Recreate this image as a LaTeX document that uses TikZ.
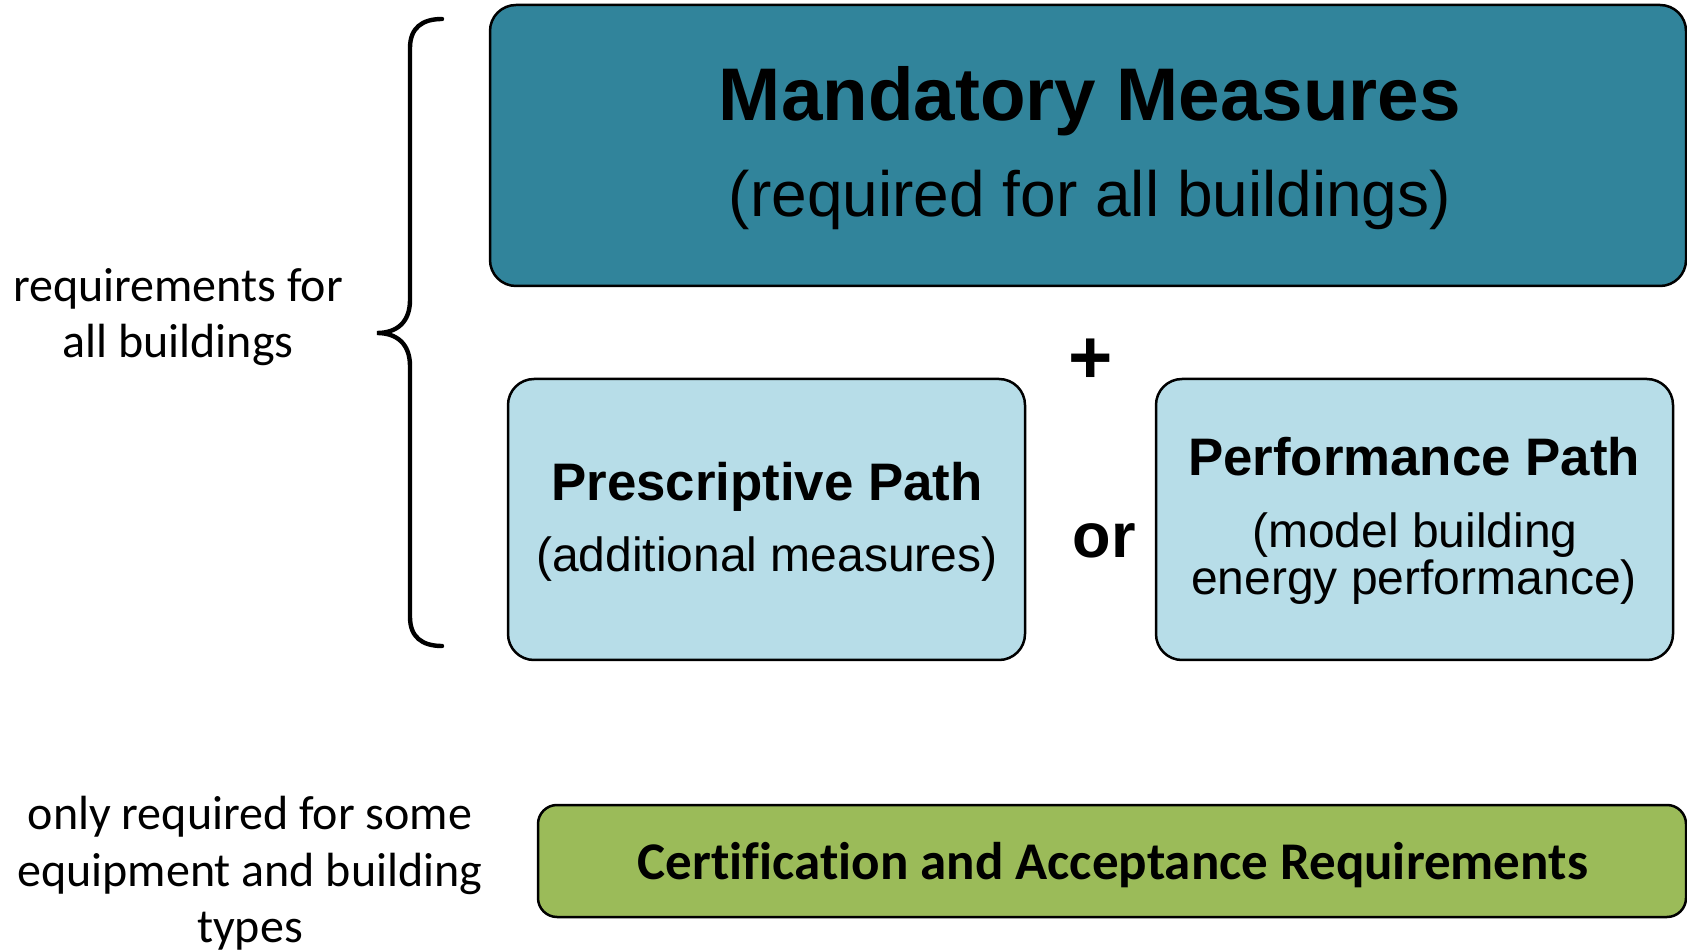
\documentclass[tikz,border=0pt]{standalone}
\usepackage{fontspec}
\setmainfont{Liberation Sans}
\newfontfamily\calibri[Ligatures=NoCommon]{Carlito}
\definecolor{mandfill}{HTML}{31849B}
\definecolor{pathfill}{HTML}{B7DDE8}
\definecolor{certfill}{HTML}{9BBB59}
\begin{document}
\begin{tikzpicture}[x=0.5pt,y=-0.5pt,
  box/.style={draw=black, line width=1.25pt, inner sep=0pt},
  bigbox/.style={box, rounded corners=13pt},
  barbox/.style={box, rounded corners=9.5pt},
  lbl/.style={anchor=base, inner sep=0pt, text=black},
  headA/.style={lbl, font=\bfseries\fontsize{37.3}{37.3}\selectfont},
  subA/.style={lbl, font=\fontsize{32}{32}\selectfont},
  headB/.style={lbl, font=\bfseries\fontsize{26.4}{26.4}\selectfont},
  subB/.style={lbl, font=\fontsize{24}{24}\selectfont},
  side/.style={lbl, font=\calibri\fontsize{24}{24}\selectfont},
  brace/.style={draw=black, line width=2.2pt, line cap=round}]
\useasboundingbox (0,0) rectangle (1687,951);

% boxes
\node[bigbox, fill=mandfill, minimum width=598pt, minimum height=140.5pt] (mand) at (1088,145.5) {};
\node[bigbox, fill=pathfill, minimum width=258.5pt, minimum height=140.5pt] (presc) at (766.5,519.5) {};
\node[bigbox, fill=pathfill, minimum width=258.5pt, minimum height=140.5pt] (perf) at (1414.5,519.5) {};
\node[barbox, fill=certfill, minimum width=574pt, minimum height=56pt] (cert) at (1112,861) {};

% box texts
\node[headA] (mandtitle) at (1090,121) {Mandatory Measures};
\node[subA] (mandsub) at (1090,217) {(required for all buildings)};
\node[headB] (presctitle) at (767,501) {Prescriptive Path};
\node[subB] (prescsub) at (767,572) {(additional measures)};
\node[headB] (perftitle) at (1414,476) {Performance Path};
\node[subB] (perfsubA) at (1415,548) {(model building};
\node[subB] (perfsubB) at (1414,595) {energy performance)};
\node[lbl, font=\calibri\bfseries\fontsize{26.5}{26.5}\selectfont] (certtext) at (1113,879) {Certification and Acceptance Requirements};

% operators between the boxes
\node[lbl, font=\bfseries\fontsize{38}{38}\selectfont] (plus) at (1091,384) {+};
\node[lbl, font=\bfseries\fontsize{31.5}{31.5}\selectfont] (orword) at (1104,558) {or};

% side notes
\node[side] (allA) at (178,302) {requirements for};
\node[side] (allB) at (178,358) {all buildings};
\node[side] (someA) at (250,829) {only required for some};
\node[side] (someB) at (250,886) {equipment and building};
\node[side] (someC) at (250,942) {types};

% curly brace grouping the upper rows
\coordinate (braceTop) at (442,19);
\coordinate (braceTip) at (377,333);
\coordinate (braceBot) at (442,646);
\draw[brace] (braceTop) .. controls (422,19) and (410,28) .. (410,48)
  -- (410,300) .. controls (410,322) and (397,333) .. (braceTip)
  .. controls (397,333) and (410,344) .. (410,366)
  -- (410,617) .. controls (410,637) and (422,646) .. (braceBot);
\end{tikzpicture}
\end{document}
